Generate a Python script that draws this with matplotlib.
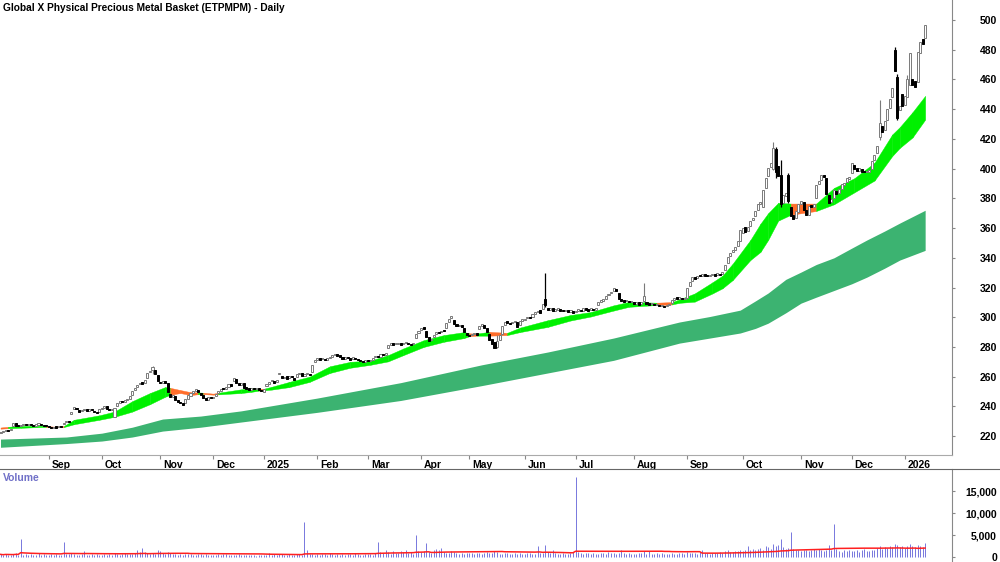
import numpy as np
import pandas as pd
import matplotlib
matplotlib.use("Agg")
import matplotlib.pyplot as plt
import matplotlib.transforms as mtransforms
from matplotlib.lines import Line2D

plt.rcParams['font.family'] = ['Liberation Sans', 'DejaVu Sans']

title = "Global X Physical Precious Metal Basket (ETPMPM) - Daily"

# ASX trading days, 6 Aug 2024 .. 14 Jan 2026
holidays = ["2024-12-25", "2024-12-26", "2025-01-01", "2025-01-27", "2025-04-18",
            "2025-04-21", "2025-04-25", "2025-06-09", "2025-12-25", "2025-12-26", "2026-01-01"]

# daily (open, close), month by month
aug24 = [(222.0, 222.5), (222.6, 223.0), (223.2, 224.0), (224.0, 223.5), (223.8, 225.0), (227.0, 228.8),
         (228.5, 227.0), (227.2, 226.5), (226.8, 227.5), (227.4, 227.8), (227.6, 227.2), (227.3, 228.0),
         (228.0, 227.5), (227.4, 227.0), (227.1, 227.6), (227.7, 228.2), (228.0, 227.4), (227.3, 226.8),
         (226.9, 226.5)]
sep24 = [(226.4, 226.0), (226.1, 225.5), (225.6, 226.2), (226.1, 225.8), (225.9, 226.4), (226.3, 226.0),
         (228.0, 229.0), (229.2, 230.0), (229.8, 229.5), (235.0, 236.5), (238.0, 239.5), (239.2, 238.0),
         (237.8, 236.5), (236.8, 237.5), (237.6, 238.5), (238.2, 237.0), (237.2, 238.0), (237.8, 237.5),
         (236.8, 236.0), (235.8, 235.5), (236.0, 238.0)]
oct24 = [(238.2, 239.0), (239.2, 240.5), (240.0, 238.5), (238.4, 237.5), (237.4, 238.0), (233.0, 239.0),
         (240.0, 242.0), (242.5, 243.5), (243.6, 243.0), (243.2, 244.0), (244.0, 244.5), (244.8, 247.0),
         (247.5, 250.5), (251.0, 252.5), (253.0, 254.5), (254.8, 256.0), (256.2, 255.0), (255.5, 257.5),
         (259.0, 262.5), (263.0, 264.0), (264.5, 266.5), (264.5, 262.0), (261.0, 257.0)]
nov24 = [(256.0, 255.5), (255.8, 257.0), (257.2, 256.0), (256.0, 249.5), (248.5, 246.0), (246.2, 247.5),
         (247.0, 244.5), (244.2, 243.0), (243.2, 242.0), (242.2, 241.0), (242.0, 245.0), (244.8, 247.5),
         (247.2, 249.0), (249.2, 250.5), (250.6, 251.0), (251.2, 249.5), (249.0, 247.5), (247.6, 245.5),
         (245.8, 244.5), (244.6, 246.0), (246.2, 245.5)]
dec24 = [(245.8, 246.5), (246.8, 248.5), (248.8, 250.5), (250.6, 252.0), (252.2, 251.5), (251.6, 253.0),
         (253.2, 255.0), (255.2, 254.0), (257.0, 259.0), (258.5, 255.5), (255.8, 254.5), (254.6, 256.0),
         (255.5, 252.5), (253.0, 252.0), (252.2, 251.0), (251.2, 252.5), (252.6, 251.5), (251.8, 252.0),
         (252.4, 251.0), (251.2, 250.5)]
jan25 = [(250.0, 251.5), (253.5, 255.0), (255.2, 256.5), (256.8, 257.5), (257.2, 256.0), (256.5, 258.0),
         (261.5, 262.5), (260.5, 259.0), (259.2, 260.0), (260.2, 258.5), (258.8, 260.5), (260.2, 259.5),
         (259.0, 258.0), (260.0, 261.5), (261.8, 262.5), (262.2, 260.5), (260.8, 261.0), (261.5, 262.0),
         (262.0, 261.0), (263.0, 268.0), (270.0, 271.0)]
feb25 = [(271.5, 272.5), (272.2, 271.5), (271.6, 272.0), (272.0, 271.0), (271.2, 272.5), (272.6, 273.0),
         (273.5, 274.5), (274.8, 275.5), (275.0, 274.0), (274.2, 273.5), (273.2, 272.0), (272.2, 273.5),
         (273.2, 272.5), (272.2, 271.5), (271.8, 273.0), (272.8, 272.0), (271.6, 271.0), (270.8, 270.5),
         (270.6, 270.0), (270.2, 271.0)]
mar25 = [(271.2, 270.5), (270.6, 271.0), (271.4, 272.5), (273.0, 274.0), (274.2, 273.0), (273.4, 275.5),
         (275.2, 274.5), (274.8, 276.0), (279.0, 281.0), (281.2, 282.5), (282.6, 281.5), (281.8, 282.0),
         (282.2, 283.0), (282.8, 281.5), (281.8, 282.5), (282.6, 283.0), (282.8, 282.0), (282.2, 281.5),
         (281.8, 283.0), (286.0, 289.0), (289.5, 291.0)]
apr25 = [(291.5, 293.0), (293.2, 292.0), (290.5, 287.0), (286.5, 284.0), (284.5, 285.5), (286.5, 288.0),
         (288.5, 290.0), (290.2, 289.5), (290.0, 291.0), (291.2, 290.5), (293.0, 296.0), (297.0, 299.0),
         (299.5, 301.0), (298.0, 295.5), (295.2, 294.0), (294.2, 295.0), (294.8, 293.5), (293.0, 290.0),
         (289.5, 288.0)]
may25 = [(288.2, 287.5), (287.8, 288.5), (288.4, 289.0), (289.2, 288.0), (292.0, 294.0), (294.2, 295.5),
         (295.0, 293.0), (292.5, 290.0), (289.0, 285.0), (285.5, 282.0), (283.5, 279.5), (280.0, 284.0),
         (284.5, 288.0), (289.0, 294.0), (294.5, 297.0), (297.2, 296.0), (296.2, 295.5), (295.8, 296.5),
         (296.6, 297.0), (296.5, 293.5), (294.5, 297.5), (297.2, 298.5)]
jun25 = [(298.2, 299.0), (299.2, 300.0), (300.2, 299.5), (300.5, 302.0), (302.2, 303.5), (303.6, 304.5),
         (304.6, 303.0), (305.5, 309.0), (312.0, 308.0), (306.5, 305.0), (305.2, 306.5), (306.2, 304.0),
         (304.2, 305.5), (305.2, 306.0), (305.8, 304.5), (304.8, 304.0), (304.2, 305.0), (305.0, 303.5),
         (303.8, 304.5), (304.4, 303.0)]
jul25 = [(303.2, 304.0), (304.2, 305.5), (305.2, 304.0), (304.5, 306.5), (306.2, 305.0), (305.2, 304.5),
         (304.8, 306.0), (305.8, 305.0), (305.2, 306.0), (308.5, 310.5), (310.6, 311.0), (311.2, 312.0),
         (312.5, 314.5), (314.8, 315.5), (316.0, 317.0), (317.5, 319.5), (319.2, 318.0), (316.5, 312.5),
         (312.2, 311.0), (311.2, 310.5), (310.8, 311.5), (311.2, 310.0), (310.2, 311.0)]
aug25 = [(310.2, 309.0), (309.2, 310.5), (310.2, 308.5), (308.6, 310.0), (311.0, 314.0), (310.5, 309.0),
         (309.2, 308.5), (308.6, 309.5), (309.2, 308.0), (308.2, 308.5), (308.4, 307.5), (307.6, 308.0),
         (307.8, 307.0), (307.4, 308.5), (308.4, 309.0), (309.5, 311.5), (311.8, 313.0), (313.2, 312.5),
         (312.6, 313.5), (313.2, 312.0), (312.4, 313.0)]
sep25 = [(313.0, 320.0), (321.0, 324.0), (324.5, 327.0), (327.2, 326.0), (326.5, 328.0), (328.2, 327.5),
         (327.6, 329.0), (329.2, 328.0), (328.2, 327.5), (327.8, 328.5), (328.6, 329.0), (329.2, 328.0),
         (328.2, 329.5), (329.2, 328.5), (328.8, 330.5), (331.5, 335.5), (336.5, 340.5), (341.0, 343.5),
         (343.8, 345.0), (345.5, 347.5), (348.0, 351.0), (351.5, 358.5)]
oct25 = [(357.0, 360.0), (360.5, 357.5), (358.0, 361.0), (361.5, 365.0), (365.5, 367.0), (368.0, 371.5),
         (372.0, 376.0), (376.5, 377.0), (374.0, 385.5), (387.0, 394.0), (395.0, 400.5), (401.0, 403.5),
         (400.0, 414.0), (413.0, 398.0), (402.0, 395.0), (396.0, 376.0), (377.0, 382.0), (381.5, 383.5),
         (396.0, 378.0), (374.0, 368.0), (368.5, 366.0), (366.5, 371.5), (371.0, 376.0)]
nov25 = [(376.5, 378.0), (377.5, 372.0), (372.5, 368.5), (369.0, 375.0), (375.5, 374.0), (374.5, 376.0),
         (380.0, 389.0), (389.5, 392.0), (392.5, 396.0), (395.5, 394.5), (394.0, 383.0), (382.0, 377.0),
         (377.5, 379.5), (380.0, 385.5), (385.0, 383.0), (383.5, 386.0), (386.5, 389.5), (389.0, 390.5),
         (391.0, 393.5), (393.0, 394.5)]
dec25 = [(397.0, 403.5), (402.5, 400.0), (400.5, 398.5), (398.5, 400.5), (400.0, 398.0), (398.2, 397.5),
         (397.8, 398.5), (398.0, 399.0), (400.0, 405.0), (406.0, 409.5), (410.5, 415.0), (421.0, 431.0),
         (428.5, 425.0), (426.0, 432.0), (433.0, 440.0), (441.0, 447.0), (448.0, 454.0), (480.0, 466.0),
         (462.0, 434.0), (439.5, 442.0), (450.0, 442.0)]
jan26 = [(443.0, 449.0), (448.0, 460.0), (456.0, 478.0), (460.0, 456.0), (459.0, 455.0), (458.0, 478.5),
         (478.0, 485.0), (487.0, 484.0), (488.0, 496.5)]

# long wicks: day index -> (high, low)
wicks = {60: (267.5, 262.0), 196: (288.0, 279.0), 215: (330.0, 307.0), 254: (323.0, 310.0),
         305: (418.0, 399.0), 306: (414.5, 394.0), 308: (406.0, 374.0), 311: (397.0, 377.0),
         347: (446.0, 419.0), 353: (482.0, 466.0), 354: (464.0, 432.7), 358: (463.0, 448.0)}

# daily volume
vol_aug24 = [600, 450, 700, 520, 380, 650, 900, 560, 4100, 480, 720, 390, 610, 530, 440, 800, 470, 650, 520]
vol_sep24 = [540, 610, 430, 700, 520, 480, 3500, 650, 590, 820, 760, 540, 480, 630, 1400, 560, 470, 610, 520, 690, 480]
vol_oct24 = [520, 640, 480, 700, 560, 820, 610, 530, 740, 900, 680, 760, 620, 850, 1500, 1100, 2000, 1200, 980, 760,
             880, 700, 1600]
vol_nov24 = [1300, 900, 760, 1100, 840, 620, 700, 540, 760, 480, 620, 580, 700, 520, 450, 610, 680, 540, 720, 490, 560]
vol_dec24 = [480, 540, 620, 450, 580, 700, 520, 460, 390, 540, 600, 480, 420, 380, 520, 460, 350, 300, 420, 380]
vol_jan25 = [420, 560, 1000, 480, 620, 540, 700, 580, 460, 520, 640, 480, 560, 700, 620, 540, 8000, 1700, 720, 600, 540]
vol_feb25 = [680, 540, 760, 620, 480, 900, 700, 560, 620, 480, 740, 520, 600, 680, 560, 820, 640, 500, 560, 760]
vol_mar25 = [620, 740, 560, 880, 3500, 1200, 900, 1500, 1100, 760, 1400, 980, 860, 1300, 1100, 1500, 920, 1050, 780,
             5000, 1300]
vol_apr25 = [1200, 1400, 3100, 1100, 900, 1500, 1800, 1600, 2000, 1200, 1000, 900, 1300, 1100, 800, 760, 900, 700, 980]
vol_may25 = [900, 800, 760, 1000, 880, 700, 940, 1200, 1000, 860, 1300, 1100, 780, 700, 920, 860, 740, 680, 820, 760,
             900, 700]
vol_jun25 = [700, 820, 900, 760, 680, 2500, 900, 1000, 2700, 1200, 860, 1700, 940, 780, 700, 820, 660, 740, 900, 1100]
vol_jul25 = [18250, 1200, 900, 760, 820, 1000, 700, 880, 640, 760, 900, 820, 700, 1100, 960, 840, 780, 1000, 1500, 900,
             760, 820, 700]
vol_aug25 = [760, 680, 820, 900, 1400, 760, 1300, 700, 640, 820, 760, 900, 700, 660, 780, 860, 720, 640, 800, 900, 760]
vol_sep25 = [1200, 900, 1000, 800, 760, 1100, 1600, 900, 840, 760, 980, 820, 900, 1100, 1000, 1300, 1500, 1200, 1100,
             1400, 1300, 1600]
vol_oct25 = [1400, 1600, 2500, 1500, 1800, 1700, 1900, 2100, 1600, 2400, 2200, 1900, 3000, 2600, 2800, 4100, 2200, 1900,
             2100, 5750, 1800, 1500, 1600]
vol_nov25 = [1300, 1500, 1700, 1400, 1600, 1800, 1500, 1900, 1700, 1400, 1600, 2800, 1500, 7500, 1800, 1400, 1200, 1500,
             1300, 1600]
vol_dec25 = [1400, 1300, 1600, 1200, 1500, 1800, 1400, 1300, 1700, 1600, 2000, 2400, 1900, 2200, 2000, 2600, 2300, 2900,
             2700, 2200, 2500]
vol_jan26 = [2100, 2600, 3000, 2400, 2200, 2800, 2500, 2300, 3200]

# short-term band: day index, upper edge, lower edge, colour of the segment that starts there
st_idx = [0, 3, 8, 17, 18, 21, 25, 29, 39, 45, 52, 59, 65, 67, 71, 75, 78, 80, 84, 86, 95, 99, 102, 104, 107, 114,
          122, 130, 138, 146, 153, 159, 167, 175, 183, 185, 188, 193, 200, 205, 216, 225, 233, 242, 248, 255, 259,
          265, 268, 274, 281, 285, 289, 296, 300, 303, 307, 312, 322, 329, 337, 345, 352, 355, 360, 365]
st_upper = [225.8, 226.3, 226.8, 227.0, 226.8, 226.4, 226.8, 231.0, 234.0, 236.5, 243.5, 249.0, 253.0, 252.5, 251.0,
            249.6, 249.4, 249.2, 248.6, 249.2, 251.5, 252.3, 251.8, 251.9, 253.2, 256.5, 260.0, 267.0, 270.0, 270.8,
            274.5, 279.0, 284.5, 288.0, 290.0, 289.2, 289.0, 290.2, 289.5, 293.0, 298.0, 301.5, 303.5, 308.0, 310.3,
            310.0, 309.8, 310.2, 312.0, 316.0, 323.5, 328.0, 336.0, 352.0, 363.0, 370.0, 377.0, 376.5, 376.5, 387.0,
            393.5, 404.0, 423.0, 428.0, 438.0, 449.0]
st_lower = [225.0, 225.3, 225.6, 226.2, 226.1, 225.8, 226.1, 228.0, 231.0, 233.0, 236.5, 241.5, 246.5, 247.8, 249.0,
            247.6, 248.2, 248.3, 247.9, 248.1, 249.0, 249.8, 250.6, 250.8, 251.3, 253.0, 256.5, 262.5, 266.0, 268.0,
            270.3, 274.5, 280.0, 283.5, 286.0, 287.2, 287.6, 287.6, 288.0, 290.0, 293.5, 297.8, 300.5, 304.5, 307.0,
            307.8, 308.2, 308.6, 309.7, 310.5, 316.0, 319.5, 325.0, 338.5, 344.0, 352.0, 365.0, 369.0, 371.5, 376.0,
            384.0, 392.0, 408.5, 414.0, 421.0, 433.0]
st_falling = [1, 0, 0, 0, 1, 1, 0, 0, 0, 0, 0, 0, 0, 1, 1, 1, 0, 1, 1, 0, 0, 0, 1, 0, 0, 0,
              0, 0, 0, 0, 0, 0, 0, 0, 0, 1, 0, 1, 0, 0, 0, 0, 0, 0, 0, 0, 1,
              0, 0, 0, 0, 0, 0, 0, 0, 0, 0, 1, 0, 0, 0, 0, 0, 0, 0, 0]

# long-term band
lt_idx = [0, 26, 40, 52, 64, 79, 95, 125, 158, 190, 216, 242, 268, 280, 292, 298, 303, 310, 316, 322, 329, 336,
          342, 349, 355, 365]
lt_upper = [218.0, 219.4, 222.0, 226.0, 231.5, 233.5, 237.0, 245.6, 256.0, 268.0, 276.6, 286.0, 296.8, 300.5,
            304.8, 311.0, 316.3, 325.5, 330.4, 335.5, 340.0, 346.5, 352.0, 358.0, 363.4, 372.0]
lt_lower = [212.5, 215.0, 216.7, 219.4, 223.4, 226.0, 229.5, 236.0, 244.0, 254.0, 262.5, 271.0, 282.6, 286.0,
            289.4, 292.5, 296.0, 303.0, 309.5, 313.5, 318.0, 322.5, 327.0, 333.0, 338.5, 345.0]

months = [aug24, sep24, oct24, nov24, dec24, jan25, feb25, mar25, apr25, may25, jun25, jul25, aug25, sep25,
          oct25, nov25, dec25, jan26]
vols = [vol_aug24, vol_sep24, vol_oct24, vol_nov24, vol_dec24, vol_jan25, vol_feb25, vol_mar25, vol_apr25,
        vol_may25, vol_jun25, vol_jul25, vol_aug25, vol_sep25, vol_oct25, vol_nov25, vol_dec25, vol_jan26]

oc = np.array([d for m in months for d in m])
opens, closes = oc[:, 0], oc[:, 1]
volume = np.array([v for m in vols for v in m], dtype=float)
n = len(closes)
x = np.arange(n)

dates = pd.bdate_range("2024-08-06", "2026-01-14")
dates = dates[~dates.isin(pd.to_datetime(holidays))][:n]

highs = np.maximum(opens, closes)
lows = np.minimum(opens, closes)
for k, (h, l) in wicks.items():
    highs[k] = h
    lows[k] = l
up = closes >= opens

fig = plt.figure(figsize=(10, 5.62), dpi=100)
ax = fig.add_axes([0, 107 / 562, 0.952, 455 / 562])
axv = fig.add_axes([0, 0, 0.952, 93 / 562])

# bands
ax.fill_between(lt_idx, lt_lower, lt_upper, color='#3cb371', lw=0, zorder=1)
for k in range(len(st_idx) - 1):
    col = '#ff6d2a' if st_falling[k] else '#00f000'
    ax.fill_between(st_idx[k:k + 2], st_lower[k:k + 2], st_upper[k:k + 2], color=col, lw=0.3,
                    edgecolor=col, zorder=2)

# candles
grey = '#7a7a7a'
ax.vlines(x[up], lows[up], highs[up], color=grey, lw=0.8, zorder=3)
ax.vlines(x[~up], lows[~up], highs[~up], color='black', lw=0.9, zorder=3)
body_lo = np.minimum(opens, closes)
body_h = np.maximum(np.abs(closes - opens), 0.8)
ax.bar(x[up], body_h[up], bottom=body_lo[up], width=0.8, facecolor='white', edgecolor=grey, lw=0.7, zorder=4)
ax.bar(x[~up], body_h[~up], bottom=body_lo[~up], width=0.8, color='black', edgecolor='black', lw=0.7, zorder=4)

ax.set_xlim(-0.2, 375.6)
ax.set_ylim(207.3, 513.5)
for s in ['left', 'top']:
    ax.spines[s].set_visible(False)
ax.spines['right'].set_color('#888888')
ax.spines['bottom'].set_color('#aaaaaa')

ax.yaxis.tick_right()
ax.set_yticks(np.arange(220, 501, 20))
ax.tick_params(axis='y', length=2, pad=30.4, colors='#888888', labelcolor='black', labelsize=7.5)
for lbl in ax.get_yticklabels():
    lbl.set_horizontalalignment('right')
    lbl.set_fontweight('bold')

# month ticks
first = [i for i in range(1, n) if dates[i].month != dates[i - 1].month]
labels = [str(dates[i].year) if dates[i].month == 1 else dates[i].strftime('%b') for i in first]
ax.set_xticks(first)
ax.set_xticklabels(labels, fontsize=7.5, fontweight='bold')
ax.tick_params(axis='x', length=3, pad=0.5, colors='#888888', labelcolor='black')
shift = mtransforms.ScaledTranslation(3 / 100, 0, fig.dpi_scale_trans)
for lbl in ax.get_xticklabels():
    lbl.set_horizontalalignment('left')
    lbl.set_transform(lbl.get_transform() + shift)

# volume panel
axv.vlines(x, 0, volume, color='#7777dd', lw=0.7)
vma = pd.Series(volume).rolling(50, min_periods=1).mean()
axv.plot(x, vma, color='#ff2020', lw=1.1)
axv.set_xlim(-0.2, 375.6)
axv.set_ylim(-1136, 20000)
for s in ['left', 'top', 'bottom']:
    axv.spines[s].set_visible(False)
axv.spines['right'].set_color('#888888')
axv.yaxis.tick_right()
axv.set_yticks([0, 5000, 10000, 15000])
axv.set_yticklabels([f"{v:,}" for v in [0, 5000, 10000, 15000]])
axv.tick_params(axis='y', length=2, pad=30.4, colors='#888888', labelcolor='black', labelsize=7.5)
for lbl in axv.get_yticklabels():
    lbl.set_horizontalalignment('right')
    lbl.set_fontweight('bold')
axv.tick_params(axis='x', bottom=False, labelbottom=False)

fig.add_artist(Line2D([0, 1], [93 / 562, 93 / 562], color='#666666', lw=0.8))
fig.text(0.003, 1 - 478 / 562, "Volume", color='#7070c8', fontsize=7.5, fontweight='bold', va='center')
fig.text(0.003, 1 - 8 / 562, title, fontsize=7.3, fontweight='bold', va='center')

fig.savefig("out.png", dpi=100)
